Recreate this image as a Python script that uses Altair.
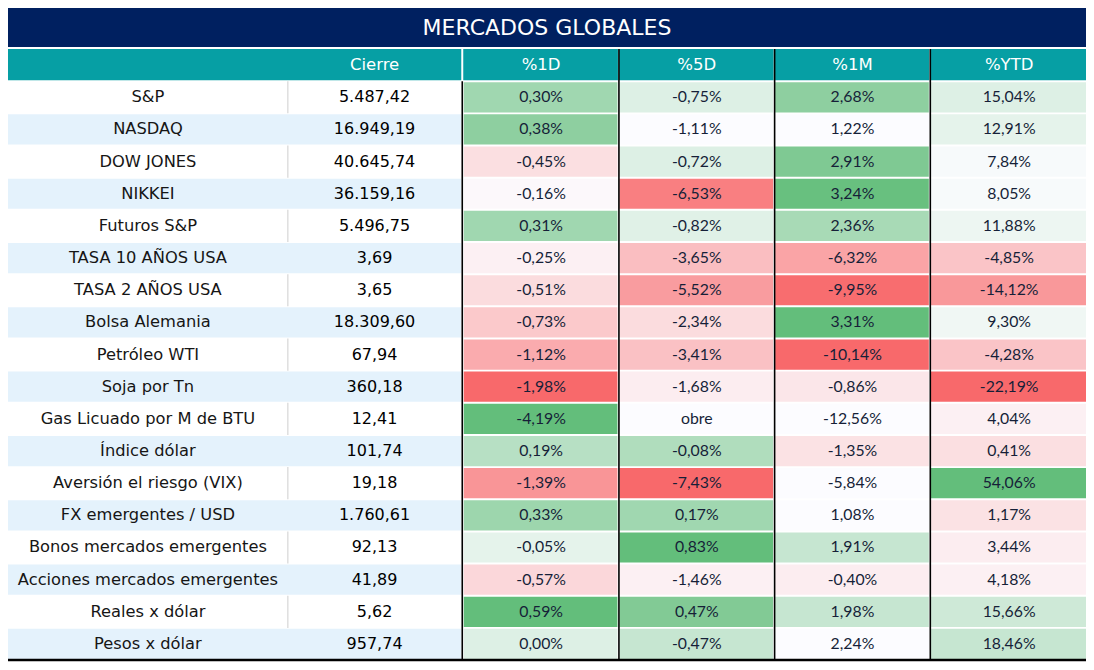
import altair as alt
import pandas as pd

# ---------------- data ----------------
TITLE = "MERCADOS GLOBALES"
HEADERS = ["Cierre", "%1D", "%5D", "%1M", "%YTD"]
NAMES = ["S&P", "NASDAQ", "DOW JONES", "NIKKEI", "Futuros S&P", "TASA 10 AÑOS USA",
         "TASA 2 AÑOS USA", "Bolsa Alemania", "Petróleo WTI", "Soja por Tn",
         "Gas Licuado por M de BTU", "Índice dólar", "Aversión el riesgo (VIX)",
         "FX emergentes / USD", "Bonos mercados emergentes", "Acciones mercados emergentes",
         "Reales x dólar", "Pesos x dólar"]
CIERRE = [5487.42, 16949.19, 40645.74, 36159.16, 5496.75, 3.69, 3.65, 18309.60, 67.94,
          360.18, 12.41, 101.74, 19.18, 1760.61, 92.13, 41.89, 5.62, 957.74]
P1D = [0.30, 0.38, -0.45, -0.16, 0.31, -0.25, -0.51, -0.73, -1.12, -1.98, -4.19, 0.19,
       -1.39, 0.33, -0.05, -0.57, 0.59, 0.00]
P5D = [-0.75, -1.11, -0.72, -6.53, -0.82, -3.65, -5.52, -2.34, -3.41, -1.68, None, -0.08,
       -7.43, 0.17, 0.83, -1.46, 0.47, -0.47]
P1M = [2.68, 1.22, 2.91, 3.24, 2.36, -6.32, -9.95, 3.31, -10.14, -0.86, -12.56, -1.35,
       -5.84, 1.08, 1.91, -0.40, 1.98, 2.24]
PYTD = [15.04, 12.91, 7.84, 8.05, 11.88, -4.85, -14.12, 9.30, -4.28, -22.19, 4.04, 0.41,
        54.06, 1.17, 3.44, 4.18, 15.66, 18.46]
MISSING_TEXT = "obre"
# conditional-format shade (-1 red ... 0 white ... 1 green)
T1D = [0.6, 0.72, -0.2, -0.03, 0.6, -0.08, -0.22, -0.35, -0.55, -1.0, 1.0, 0.45,
       -0.7, 0.62, 0.15, -0.25, 1.0, 0.2]
T5D = [0.2, 0.0, 0.2, -0.85, 0.18, -0.42, -0.65, -0.22, -0.4, -0.1, 0.0, 0.5,
       -1.0, 0.6, 1.0, -0.08, 0.8, 0.35]
T1M = [0.72, 0.0, 0.82, 0.97, 0.55, -0.6, -0.97, 1.0, -1.0, -0.15, 0.0, -0.18,
       0.0, 0.0, 0.35, -0.1, 0.35, 0.0]
TYTD = [0.2, 0.15, 0.03, 0.03, 0.1, -0.38, -0.68, 0.08, -0.38, -1.0, -0.08, -0.2,
        1.0, -0.18, -0.1, -0.08, 0.3, 0.35]

# ---------------- layout ----------------
W_REF, H_REF = 1094, 670
COLS = [(0, 284), (284, 460), (462, 618), (620, 776), (778, 934), (936, 1094)]
TITLE_BAND = (0, 40)
HEAD_BAND = (42, 74)
BODY_TOP, BODY_BOT = 75, 668
NAVY = "#002060"
TEAL = "#069FA4"
LIGHT = "#E4F2FC"
FONT = "DejaVu Sans"
NUMFONT = "Lato"


def es_num(v, dec=2):
    s = f"{v:,.{dec}f}"
    return s.replace(",", "X").replace(".", ",").replace("X", ".")


n = len(NAMES)
rowh = (BODY_BOT - BODY_TOP) / n

# body rows (left two columns)
left = []
for i, name in enumerate(NAMES):
    top = BODY_TOP + i * rowh
    left.append(dict(x0=COLS[0][0], x1=COLS[1][1], y0=top + 1, y1=top + rowh - 1,
                     fill=LIGHT if i % 2 == 1 else "#FFFFFF", band=i % 2,
                     yc=top + rowh / 2, name=name, cierre=es_num(CIERRE[i])))
left_df = pd.DataFrame(left)

cells = []
for ci, (vals, tones) in enumerate([(P1D, T1D), (P5D, T5D), (P1M, T1M), (PYTD, TYTD)]):
    x0, x1 = COLS[ci + 2]
    for i in range(n):
        top = BODY_TOP + i * rowh
        v = vals[i]
        label = MISSING_TEXT if v is None else es_num(v) + "%"
        cells.append(dict(x0=x0 + 0.5, x1=x1 + 0.5, xc=(x0 + x1) / 2 + 1, y0=top + 1,
                          y1=top + rowh - 1, yc=top + rowh / 2, tone=tones[i], label=label))
cells_df = pd.DataFrame(cells)

head_rects = pd.DataFrame([dict(x0=0, x1=COLS[1][1])] +
                          [dict(x0=a, x1=b + 1) for a, b in COLS[2:]])
head_rects["y0"], head_rects["y1"] = HEAD_BAND
head_text = pd.DataFrame([dict(xc=(a + b) / 2 + (1 if k else 0), label=h)
                          for k, (h, (a, b)) in enumerate(zip(HEADERS, COLS[1:]))])
head_text["yc"] = sum(HEAD_BAND) / 2

xs = alt.Scale(domain=[0, W_REF], nice=False, zero=False)
ys = alt.Scale(domain=[0, H_REF], nice=False, zero=False, reverse=True)


def X(f):
    return alt.X(f, type="quantitative", scale=xs, axis=None)


def Y(f):
    return alt.Y(f, type="quantitative", scale=ys, axis=None)


title_df = pd.DataFrame([dict(x0=0, x1=W_REF, y0=TITLE_BAND[0], y1=TITLE_BAND[1],
                              xc=W_REF / 2, yc=sum(TITLE_BAND) / 2 + 1, label=TITLE)])

title_rect = alt.Chart(title_df).mark_rect(color=NAVY).encode(
    x=X("x0"), x2="x1", y=Y("y0"), y2="y1")
title_txt = alt.Chart(title_df).mark_text(color="white", font=FONT, fontSize=22,
                                          align="center", baseline="middle").encode(
    x=X("xc"), y=Y("yc"), text="label:N")

head_rect = alt.Chart(head_rects).mark_rect(color=TEAL).encode(
    x=X("x0"), x2="x1", y=Y("y0"), y2="y1")
head_txt = alt.Chart(head_text).mark_text(color="white", font=FONT, fontSize=16.5,
                                          align="center", baseline="middle").encode(
    x=X("xc"), y=Y("yc"), text="label:N")

left_rect = alt.Chart(left_df).mark_rect().encode(
    x=X("x0"), x2="x1", y=Y("y0"), y2="y1",
    color=alt.Color("fill:N", scale=None))

div_df = left_df[left_df["band"] == 0].copy()
div_df["xd"] = COLS[1][0]
div_df["yt"] = div_df["y0"] - 1
div_df["yb"] = div_df["y1"] + 1
left_div = alt.Chart(div_df).mark_rule(color="#D6D6D6", strokeWidth=1.2).encode(
    x=X("xd"), y=Y("yt"), y2="yb")

name_txt = alt.Chart(left_df).mark_text(color="#161616", font=FONT, fontSize=16.3,
                                        align="center", baseline="middle").encode(
    x=alt.value((COLS[0][0] + COLS[0][1]) / 2 * 1078 / W_REF), y=Y("yc"), text="name:N")
cierre_txt = alt.Chart(left_df).mark_text(color="#000000", font=FONT, fontSize=16,
                                          align="center", baseline="middle").encode(
    x=alt.value((COLS[1][0] + COLS[1][1]) / 2 * 1078 / W_REF), y=Y("yc"), text="cierre:N")

cell_rect = alt.Chart(cells_df).mark_rect().encode(
    x=X("x0"), x2="x1", y=Y("y0"), y2="y1",
    color=alt.Color("tone:Q", legend=None,
                    scale=alt.Scale(domain=[-1, 0, 1], range=["#F8696B", "#FCFCFF", "#63BE7B"],
                                    interpolate="rgb")))
cell_txt = alt.Chart(cells_df).mark_text(color="#161F38", font=NUMFONT, fontSize=15.8,
                                         align="center", baseline="middle").encode(
    x=X("xc"), y=Y("yc"), text="label:N")

vlines = pd.DataFrame([dict(xl=COLS[2][0] - 1, yt=BODY_TOP)] +
                      [dict(xl=a, yt=HEAD_BAND[0]) for a, b in COLS[3:]])
vlines["yb"] = BODY_BOT
vline = alt.Chart(vlines).mark_rule(color="#000000", strokeWidth=1.6).encode(
    x=X("xl"), y=Y("yt"), y2="yb")

bottom_df = pd.DataFrame([dict(x0=0, x1=W_REF, yl=BODY_BOT)])
bottom = alt.Chart(bottom_df).mark_rule(color="#000000", strokeWidth=2.5).encode(
    x=X("x0"), x2="x1", y=Y("yl"))

chart = alt.layer(
    title_rect, title_txt, head_rect, head_txt, left_rect, left_div, name_txt, cierre_txt,
    cell_rect, cell_txt, vline, bottom
).properties(
    width=1078, height=654, padding=0, autosize=alt.AutoSizeParams(type="none"),
    background="white"
).configure_view(stroke=None)

chart.save("out.html", embed_options={"renderer": "svg", "actions": False})
